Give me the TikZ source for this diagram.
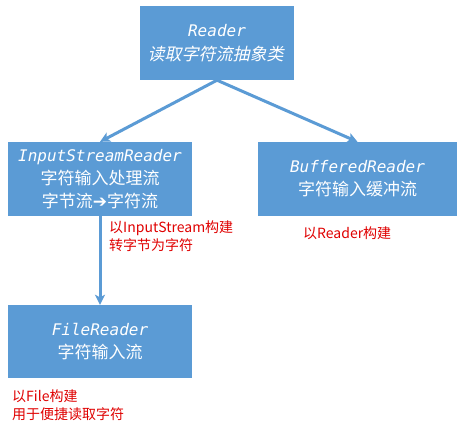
\documentclass[tikz,border=0pt]{standalone}
\usepackage{fontspec}
\usetikzlibrary{arrows.meta}
\newfontfamily\cjk{Noto Sans CJK SC}
\newfontfamily\monoit{DejaVu Sans Mono Oblique}
\newfontfamily\symb{DejaVu Sans}
\definecolor{boxblue}{HTML}{5B9BD5}
\definecolor{notered}{HTML}{E00000}
\tikzset{
  classbox/.style={fill=boxblue, draw=none, text=white, align=center, inner sep=0pt,
    font=\fontsize{16}{23}\selectfont},
  conn/.style={draw=boxblue, line width=3pt, -{Stealth[length=10pt,width=10pt,inset=2.5pt]}},
  note/.style={text=notered, align=left, inner sep=0pt, anchor=west,
    font=\cjk\fontsize{14}{18}\selectfont},
  cjkline/.style={text=white, inner sep=0pt, font=\cjk\fontsize{17}{23}\selectfont}
}
\begin{document}
\begin{tikzpicture}[x=1pt,y=-1pt]
\useasboundingbox[fill=white] (0,0) rectangle (462,425);
\node[classbox, minimum width=154pt, minimum height=74pt] (reader) at (217,43)
  {{\monoit Reader}\\{\cjk\fontsize{17}{23}\selectfont\phantom{读取字符流抽象类}}};
\begin{scope}[shift={(217,54)}, xslant=0.22]
  \node[cjkline, transform shape] (readersub) at (0,0) {读取字符流抽象类};
\end{scope}
\node[classbox, minimum width=184pt, minimum height=74pt] (isr) at (100,179)
  {{\monoit InputStreamReader}\\{\cjk\fontsize{17}{23}\selectfont 字符输入处理流}\\{\cjk\fontsize{17}{23}\selectfont 字节流{\symb\bfseries ➔}字符流}};
\node[classbox, minimum width=199pt, minimum height=74pt] (bufr) at (357.5,179)
  {{\monoit BufferedReader}\\{\cjk\fontsize{17}{23}\selectfont 字符输入缓冲流}};
\node[classbox, minimum width=184pt, minimum height=73pt] (filer) at (100,341.5)
  {{\monoit FileReader}\\{\cjk\fontsize{17}{23}\selectfont 字符输入流}};
\draw[conn] (reader.south) -- (isr.north);
\draw[conn] (reader.south) -- (bufr.north);
\draw[conn] (isr.south) -- (filer.north);
\node[note] (n1) at (303,233) {以Reader构建};
\node[note] (n2) at (109,236) {以InputStream构建\\转字节为字符};
\node[note] (n3) at (12,405) {以File构建\\用于便捷读取字符};
\end{tikzpicture}
\end{document}
